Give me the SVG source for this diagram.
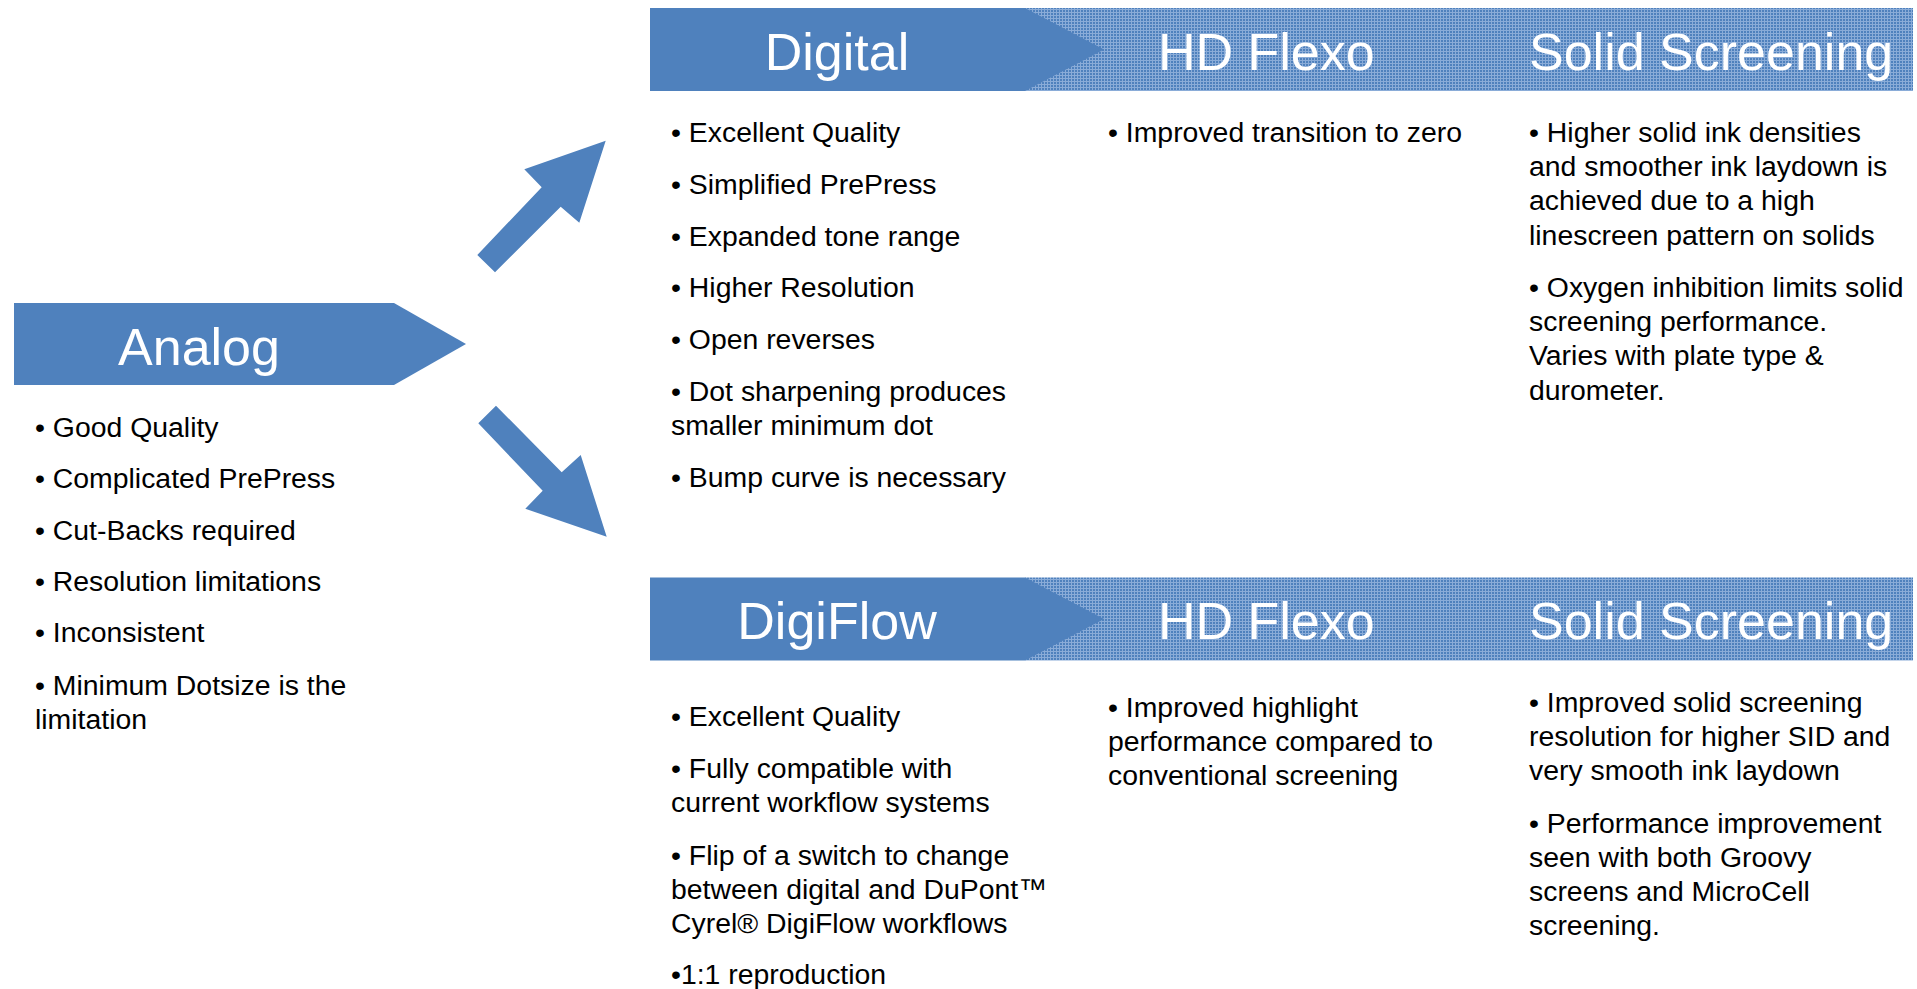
<svg xmlns="http://www.w3.org/2000/svg" width="1917" height="989" viewBox="0 0 1917 989">
<defs>
<pattern id="mesh" x="0" y="0" width="3" height="3" patternUnits="userSpaceOnUse">
<rect width="3" height="3" fill="#4f81bd"/>
<rect x="0" y="0" width="3" height="1" fill="#8aacd8"/>
<rect x="0" y="0" width="1" height="3" fill="#8aacd8"/>
</pattern>
<style>
.blk{fill:#4f81bd}
.mesh{fill:url(#mesh)}
.hd{font-family:"Liberation Sans",Arial,sans-serif;font-size:52px;fill:#ffffff}
.tx{font-family:"Liberation Sans",Arial,sans-serif;font-size:28.4px;fill:#000000}
</style>
</defs>
<rect width="1917" height="989" fill="#ffffff"/>

<g id="band-top">
<rect class="mesh" x="1025" y="8" width="888" height="83"/>
<polygon class="blk" points="650,8 1025,8 1104,49.5 1025,91 650,91"/>
</g>
<g id="band-bottom">
<rect class="mesh" x="1025" y="577.5" width="888" height="83"/>
<polygon class="blk" points="650,577.5 1025,577.5 1104,619 1025,660.5 650,660.5"/>
</g>

<g id="analog">
<polygon class="blk" points="14,303 394,303 466,344 394,385 14,385"/>
<text class="hd" x="199" y="365" text-anchor="middle">Analog</text>
<text class="tx" x="35"><tspan x="35" y="437">• Good Quality</tspan><tspan x="35" y="488.3">• Complicated PrePress</tspan><tspan x="35" y="539.6">• Cut-Backs required</tspan><tspan x="35" y="590.9">• Resolution limitations</tspan><tspan x="35" y="642.2">• Inconsistent</tspan><tspan x="35" y="694.5">• Minimum Dotsize is the</tspan><tspan x="35" y="728.7">limitation</tspan></text>
</g>

<g id="digital">
<text class="hd" x="837" y="70" text-anchor="middle">Digital</text>
<text class="tx"><tspan x="671" y="142">• Excellent Quality</tspan><tspan x="671" y="194">• Simplified PrePress</tspan><tspan x="671" y="245.5">• Expanded tone range</tspan><tspan x="671" y="297">• Higher Resolution</tspan><tspan x="671" y="348.5">• Open reverses</tspan><tspan x="671" y="400.5">• Dot sharpening produces</tspan><tspan x="671" y="434.7">smaller minimum dot</tspan><tspan x="671" y="486.5">• Bump curve is necessary</tspan></text>
</g>

<g id="hdflexo-top">
<text class="hd" x="1158" y="70">HD Flexo</text>
<text class="tx"><tspan x="1108" y="142">• Improved transition to zero</tspan></text>
</g>

<g id="solid-top">
<text class="hd" x="1529" y="70">Solid Screening</text>
<text class="tx"><tspan x="1529" y="142">• Higher solid ink densities</tspan><tspan x="1529" y="176.2">and smoother ink laydown is</tspan><tspan x="1529" y="210.4">achieved due to a high</tspan><tspan x="1529" y="244.6">linescreen pattern on solids</tspan><tspan x="1529" y="297">• Oxygen inhibition limits solid</tspan><tspan x="1529" y="331.2">screening performance.</tspan><tspan x="1529" y="365.4">Varies with plate type &amp;</tspan><tspan x="1529" y="399.6">durometer.</tspan></text>
</g>

<g id="digiflow">
<text class="hd" x="837" y="638.5" text-anchor="middle">DigiFlow</text>
<text class="tx"><tspan x="671" y="726">• Excellent Quality</tspan><tspan x="671" y="778">• Fully compatible with</tspan><tspan x="671" y="812.2">current workflow systems</tspan><tspan x="671" y="864.5">• Flip of a switch to change</tspan><tspan x="671" y="898.7">between digital and DuPont™</tspan><tspan x="671" y="932.9">Cyrel® DigiFlow workflows</tspan><tspan x="671" y="984">•1:1 reproduction</tspan></text>
</g>

<g id="hdflexo-bottom">
<text class="hd" x="1158" y="638.5">HD Flexo</text>
<text class="tx"><tspan x="1108" y="716.5">• Improved highlight</tspan><tspan x="1108" y="750.7">performance compared to</tspan><tspan x="1108" y="784.9">conventional screening</tspan></text>
</g>

<g id="solid-bottom">
<text class="hd" x="1529" y="638.5">Solid Screening</text>
<text class="tx"><tspan x="1529" y="712">• Improved solid screening</tspan><tspan x="1529" y="746.2">resolution for higher SID and</tspan><tspan x="1529" y="780.4">very smooth ink laydown</tspan><tspan x="1529" y="832.8">• Performance improvement</tspan><tspan x="1529" y="867">seen with both Groovy</tspan><tspan x="1529" y="901.2">screens and MicroCell</tspan><tspan x="1529" y="935.4">screening.</tspan></text>
</g>

<g id="connectors">
<polygon class="blk" points="477.3,255 495,272.3 560.7,206.7 579.3,222.7 605.7,140.7 524.3,169.3 541.7,187.3"/>
<polygon class="blk" points="478.3,423.3 496,405.7 561.7,472.3 580.7,455 606.7,536.7 525.3,508.7 542.7,490.7"/>
</g>
</svg>
